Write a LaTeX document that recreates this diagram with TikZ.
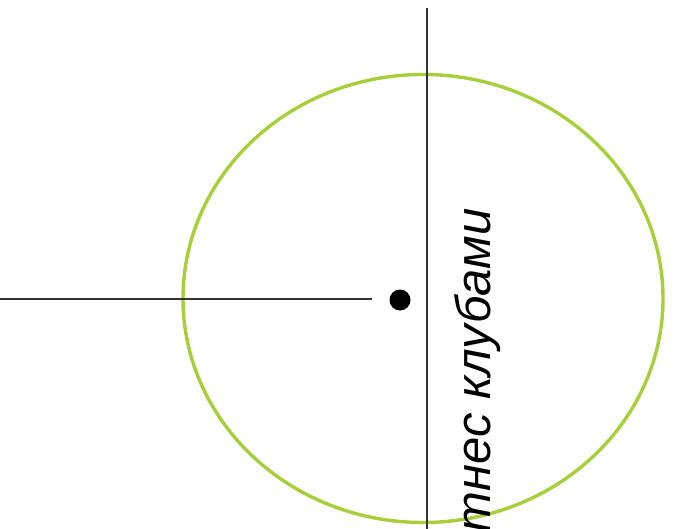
\documentclass[tikz,border=0pt]{standalone}
\usepackage{fontspec}
\setmainfont{Liberation Sans}
\usepackage{tikz}
\usetikzlibrary{positioning}

\definecolor{ringgreen}{RGB}{168,206,58}

\begin{document}
\begin{tikzpicture}[
    x=1pt, y=-1pt,
    axis/.style={draw=black!80, line width=2.2pt},
    ring/.style={draw=ringgreen, line width=3.4pt},
    dotnode/.style={circle, fill=black, minimum size=21pt, inner sep=0pt},
    lbl/.style={font=\fontsize{49}{53}\selectfont\itshape, inner sep=0pt, rotate=90, anchor=base east},
  ]
    \useasboundingbox (0,0) rectangle (676,529);

    \draw[ring] (423,298.5) ellipse [x radius=240, y radius=224];

    \coordinate (vtop) at (427,8);
    \coordinate (vbot) at (427,535);
    \coordinate (hleft) at (-5,299);
    \coordinate (hright) at (372,299);
    \draw[axis] (vtop) -- (vbot);
    \draw[axis] (hleft) -- (hright);

    \node[dotnode] (centre) at (400,300) {};
    \node[lbl] (club) at (490,208) {тнес клубами};
\end{tikzpicture}
\end{document}
